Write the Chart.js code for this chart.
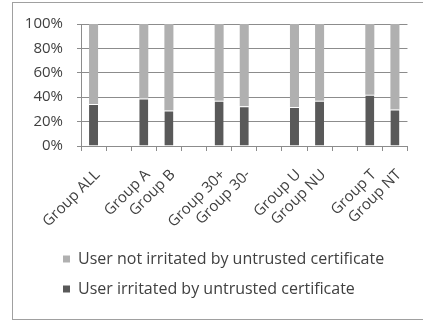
<!DOCTYPE html>
<html>
<head>
<meta charset="utf-8">
<script src="https://cdn.jsdelivr.net/npm/chart.js@4"></script>
<style>
  html, body { margin: 0; padding: 0; background: #fff; }
  #wrap { position: relative; width: 423px; height: 320px; overflow: hidden; }
  #frame { position: absolute; left: 12px; top: 2px; width: 440px; height: 318px;
           border: 1px solid #a0a0a0; box-sizing: border-box; }
  canvas { position: absolute; left: 0; top: 0; }
</style>
</head>
<body>
<div id="wrap">
  <div id="frame"></div>
  <canvas id="c" width="423" height="320"></canvas>
</div>
<script>
const categories = ['Group ALL', '', 'Group A', 'Group B', '', 'Group 30+', 'Group 30-', '', 'Group U', 'Group NU', '', 'Group T', 'Group NT'];
const irritated = [34.5, null, 39, 29, null, 37, 32.5, null, 32, 37, null, 42, 30];
const notIrritated = [65.5, null, 61, 71, null, 63, 67.5, null, 68, 63, null, 58, 70];
const yTicks = [0, 20, 40, 60, 80, 100];
const seriesNames = ['User irritated by untrusted certificate', 'User not irritated by untrusted certificate'];

const FONT = 'Open Sans';
const TXT = '#404040';
const PAD_LEFT = 18;
const LEGEND_START = 63;
const LEGEND_PAD = 14;

// shift the bottom legend so its rows start where the reference's do
const legendShift = {
  id: 'legendShift',
  afterLayout(chart) {
    const lg = chart.legend;
    const dx = LEGEND_START - (lg.left + LEGEND_PAD);
    lg.left += dx;
    lg.right += dx;
  }
};

new Chart(document.getElementById('c'), {
  type: 'bar',
  data: {
    labels: categories,
    datasets: [
      { label: seriesNames[0], data: irritated, backgroundColor: '#595959',
        borderColor: '#ffffff', borderWidth: { top: 1, right: 0, bottom: 0, left: 0 },
        borderSkipped: false,
        barPercentage: 0.36, categoryPercentage: 1 },
      { label: seriesNames[1], data: notIrritated, backgroundColor: '#b0b0b0',
        barPercentage: 0.36, categoryPercentage: 1 }
    ]
  },
  plugins: [legendShift],
  options: {
    responsive: false,
    animation: false,
    layout: { padding: { left: PAD_LEFT, top: 24, right: 9, bottom: 13 } },
    plugins: {
      legend: {
        position: 'bottom',
        align: 'start',
        reverse: true,
        labels: { boxWidth: 7, boxHeight: 7, padding: LEGEND_PAD, color: TXT,
                  font: { family: FONT, size: 16 },
                  generateLabels: (chart) => {
                    const items = Chart.defaults.plugins.legend.labels.generateLabels(chart);
                    items.forEach(it => { it.lineWidth = 0; });
                    return items;
                  } }
      },
      tooltip: { enabled: false }
    },
    scales: {
      x: {
        stacked: true,
        grid: { offset: true, drawOnChartArea: false, tickLength: 5, color: '#8c8c8c' },
        border: { color: '#8c8c8c' },
        ticks: { autoSkip: false, minRotation: 45, maxRotation: 45, padding: 15, labelOffset: 4,
                 color: TXT, font: { family: FONT, size: 15 } },
        afterFit: (s) => { s.height = 91; }
      },
      y: {
        stacked: true,
        min: 0, max: 100,
        afterBuildTicks: (s) => { s.ticks = yTicks.map(v => ({ value: v })); },
        grid: { color: '#8c8c8c', tickLength: 4 },
        border: { color: '#8c8c8c' },
        ticks: { padding: 14, color: TXT, font: { family: FONT, size: 15 },
                 callback: (v) => v + '%' },
        afterFit: (s) => { s.width = 81 - PAD_LEFT; }
      }
    }
  }
});
</script>
</body>
</html>
